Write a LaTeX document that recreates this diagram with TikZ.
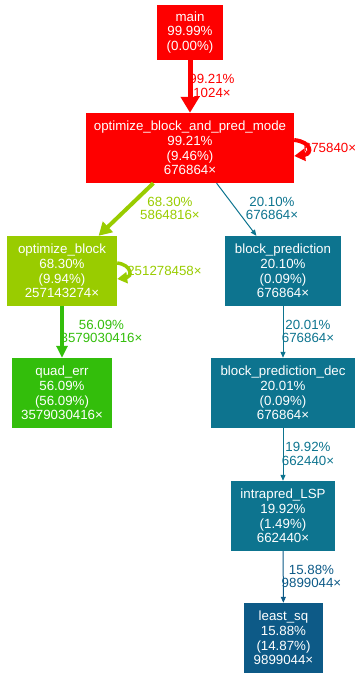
\documentclass[tikz,border=0pt]{standalone}
\usepackage{fontspec}
\setmainfont{Liberation Sans}
\usetikzlibrary{arrows.meta}
\definecolor{callred}{HTML}{FE0000}
\definecolor{callyg}{HTML}{99CC00}
\definecolor{callgreen}{HTML}{33BE0B}
\definecolor{callteal}{HTML}{0D748F}
\definecolor{callblue}{HTML}{0D5A87}
\begin{document}
\begin{tikzpicture}[x=1pt, y=-1pt,
  fn/.style={fill=#1, text=white, align=center, inner xsep=7pt, inner ysep=0pt,
    minimum height=70pt, font={\fontsize{13.3}{14.7}\selectfont}},
  num/.style={text=#1, align=center, inner sep=0pt, font={\fontsize{13.3}{13.5}\selectfont}},
  call/.style={draw=#1, line width=1pt, -{Triangle[length=6pt,width=5pt]}}]
  \useasboundingbox (0,0) rectangle (355,675);

  \node [fn=callred, minimum height=55pt, minimum width=66pt] (main) at (190,32.5) {main\\99.99\%\\(0.00\%)};
  \node [fn=callred, minimum width=208pt] (obapm) at (190,148) {optimize\_block\_and\_pred\_mode\\99.21\%\\(9.46\%)\\676864×};
  \node [fn=callyg, minimum width=110pt] (ob) at (62,271) {optimize\_block\\68.30\%\\(9.94\%)\\257143274×};
  \node [fn=callteal, minimum width=116pt] (bp) at (283,271) {block\_prediction\\20.10\%\\(0.09\%)\\676864×};
  \node [fn=callgreen, minimum width=100pt] (qe) at (62,393) {quad\_err\\56.09\%\\(56.09\%)\\3579030416×};
  \node [fn=callteal, minimum width=144pt] (bpd) at (283,393) {block\_prediction\_dec\\20.01\%\\(0.09\%)\\676864×};
  \node [fn=callteal, minimum width=104pt] (ilsp) at (283,516) {intrapred\_LSP\\19.92\%\\(1.49\%)\\662440×};
  \node [fn=callblue, minimum width=79pt] (lsq) at (283.5,638) {least\_sq\\15.88\%\\(14.87\%)\\9899044×};

  \node [num=callred] (l-main) at (212,86) {99.21\%\\1024×};
  \node [num=callred] (l-obapm) at (330,148) {675840×};
  \node [num=callyg] (l-ob) at (170,208.5) {68.30\%\\5864816×};
  \node [num=callteal] (l-bp) at (272,208.5) {20.10\%\\676864×};
  \node [num=callyg] (l-loop) at (164.5,271) {251278458×};
  \node [num=callgreen] (l-qe) at (101.5,331.5) {56.09\%\\3579030416×};
  \node [num=callteal] (l-bpd) at (308,331.5) {20.01\%\\676864×};
  \node [num=callteal] (l-ilsp) at (308,454) {19.92\%\\662440×};
  \node [num=callblue] (l-lsq) at (311.5,576.5) {15.88\%\\9899044×};

  \draw [call=callred, line width=5pt, -{Triangle[length=16pt,width=18pt]}] (main) -- (obapm);
  \draw [call=callred, line width=4pt, -{Triangle[length=11pt,width=12pt]}]
    ([yshift=8pt]obapm.east) .. controls +(18,2) and +(18,-2) .. ([yshift=-8pt]obapm.east);
  \draw [call=callyg, line width=4pt, -{Triangle[length=13pt,width=14pt]}] (obapm) -- (ob);
  \draw [call=callteal] (obapm) -- (bp);
  \draw [call=callyg, line width=3.5pt, -{Triangle[length=10pt,width=11pt]}]
    ([yshift=8pt]ob.east) .. controls +(15,2) and +(15,-2) .. ([yshift=-8pt]ob.east);
  \draw [call=callgreen, line width=3.3pt, -{Triangle[length=12pt,width=11pt]}] (ob) -- (qe);
  \draw [call=callteal] (bp) -- (bpd);
  \draw [call=callteal] (bpd) -- (ilsp);
  \draw [call=callblue] (ilsp) -- (lsq);
\end{tikzpicture}
\end{document}
